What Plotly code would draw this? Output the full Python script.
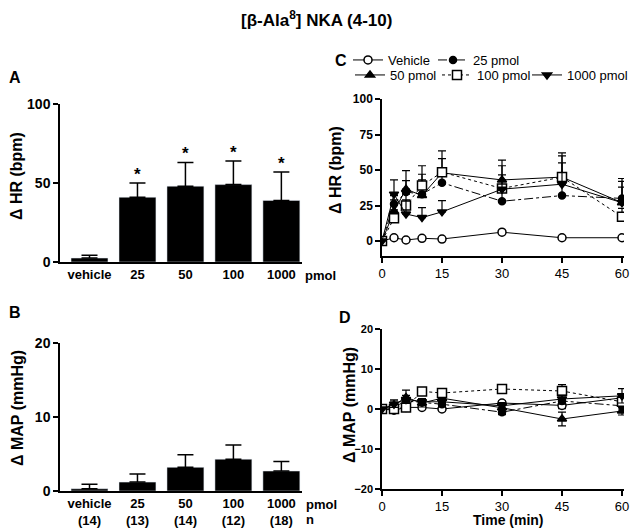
import plotly.graph_objects as go

# ---------------- data ----------------
groups = ["vehicle", "25", "50", "100", "1000"]
n_labels = ["(14)", "(13)", "(14)", "(12)", "(18)"]
hr_mean = [2.5, 41, 48, 49, 39]
hr_sem = [1.7, 9, 15, 15, 18]
map_mean = [0.3, 1.2, 3.2, 4.3, 2.7]
map_sem = [0.6, 1.1, 1.7, 1.9, 1.3]
hr_sig = [False, True, True, True, True]

times = [0, 3, 6, 10, 15, 30, 45, 60]
series_names = ["Vehicle", "25 pmol", "50 pmol", "100 pmol", "1000 pmol"]

hr_vehicle = [0, 2.3, 0.7, 1.9, 1.4, 6.2, 2.3, 2.3]
hr_25 = [0, 26, 34.5, 33, 41, 28, 32, 30]
hr_50 = [0, 21, 36.5, 32, 48, 43, 45, 27]
hr_100 = [0, 16, 25, 39, 48.5, 37, 45, 17]
hr_1000 = [0, 33, 19, 16.5, 20.5, 36.5, 40, 27]

err_hr_vehicle = [0, 1, 1, 1, 1, 1, 1, 1]
err_hr_25 = [0, 6, 8, 10, 8, 10, 8, 14]
err_hr_50 = [0, 8, 13, 15, 10, 14, 15, 15]
err_hr_100 = [0, 6, 8, 14, 15, 16, 17, 6]
err_hr_1000 = [0, 10, 10, 7, 8, 10, 15, 11]

map_vehicle = [0, -0.3, 0.4, 0.4, 0, 1.5, 0.9, 2.8]
map_25 = [0, 0.5, 2, 1.6, 1.2, -0.8, 2, 0.8]
map_50 = [0, 1, 2.9, 1.5, 2.7, 0.3, -2.5, -0.5]
map_100 = [0, 0, 0.4, 4.4, 4, 5, 4.5, 1.8]
map_1000 = [0, 1.2, 2.4, 1.8, 1.8, 0.8, 2.5, 3.3]

err_map_vehicle = [0, 0.5, 0.5, 0.5, 0.5, 0.6, 0.8, 1]
err_map_25 = [0, 0.6, 0.8, 0.7, 0.7, 0.6, 0.8, 0.8]
err_map_50 = [0, 1.3, 1.8, 1, 1, 1, 1.7, 1]
err_map_100 = [0, 0.5, 0.5, 0.8, 0.6, 0.8, 1.6, 1]
err_map_1000 = [0, 0.8, 1, 0.8, 0.8, 0.8, 1, 1.8]

# ---------------- styling ----------------
# The page body has an 8px margin, so the figure is 632x520 and page
# pixel positions are converted with that offset.
OFF = 8
W, H = 640 - OFF, 528 - OFF
FONT = "Liberation Sans, Arial, Helvetica, sans-serif"


def px(x):
    return (x - OFF) / W


def py(y):
    return 1 - (y - OFF) / H


styles = [
    dict(symbol="circle", fill="white", dash="solid", size=8),
    dict(symbol="circle", fill="black", dash="dashdot", size=7),
    dict(symbol="triangle-up", fill="black", dash="solid", size=8),
    dict(symbol="square", fill="white", dash="dot", size=9),
    dict(symbol="triangle-down", fill="black", dash="solid", size=8),
]
# legend placement (page pixel x of legend box, page pixel y of row centre)
legend_pos = [(348, 60), (433, 60), (350, 75), (437, 75), (527, 75)]

hr_series = [hr_vehicle, hr_25, hr_50, hr_100, hr_1000]
hr_errs = [err_hr_vehicle, err_hr_25, err_hr_50, err_hr_100, err_hr_1000]
map_series = [map_vehicle, map_25, map_50, map_100, map_1000]
map_errs = [err_map_vehicle, err_map_25, err_map_50, err_map_100, err_map_1000]

fig = go.Figure()

# Panel A bars
fig.add_trace(go.Bar(
    x=groups, y=hr_mean, xaxis="x", yaxis="y", marker_color="black",
    error_y=dict(type="data", array=hr_sem, arrayminus=[0] * 5, color="black",
                 thickness=1.5, width=8),
    showlegend=False))

# Panel B bars
fig.add_trace(go.Bar(
    x=groups, y=map_mean, xaxis="x2", yaxis="y2", marker_color="black",
    error_y=dict(type="data", array=map_sem, arrayminus=[0] * 5, color="black",
                 thickness=1.5, width=8),
    showlegend=False))

legend_layouts = {}
# Panels C and D
for i, name in enumerate(series_names):
    st = styles[i]
    lname = "legend" if i == 0 else f"legend{i + 1}"
    lx, ly = legend_pos[i]
    legend_layouts[lname] = dict(
        x=px(lx), y=py(ly), xanchor="left", yanchor="middle",
        font=dict(family=FONT, size=13, color="black"), itemwidth=30,
        bgcolor="rgba(0,0,0,0)", borderwidth=0)
    marker = dict(symbol=st["symbol"], size=st["size"], color=st["fill"],
                  line=dict(color="black", width=1.5))
    fig.add_trace(go.Scatter(
        x=times, y=hr_series[i], xaxis="x3", yaxis="y3", name=name,
        mode="lines+markers", legend=lname,
        line=dict(color="black", width=1, dash=st["dash"]),
        marker=marker,
        error_y=dict(type="data", array=hr_errs[i], arrayminus=[0] * len(times),
                     color="black", thickness=1.2, width=4),
        showlegend=True))
    fig.add_trace(go.Scatter(
        x=times, y=map_series[i], xaxis="x4", yaxis="y4", name=name,
        mode="lines+markers",
        line=dict(color="black", width=1, dash=st["dash"]),
        marker=marker,
        error_y=dict(type="data", array=map_errs[i], color="black", thickness=1.2, width=4),
        showlegend=False))

axis_common = dict(showline=True, linecolor="black", linewidth=1.5, showgrid=False,
                   zeroline=False, ticks="outside", ticklen=5, tickwidth=1.5,
                   tickcolor="black")
bold_tick = dict(family=FONT, size=14, color="black", weight="bold")
cat_tick = dict(family=FONT, size=13, color="black", weight="bold")
norm_tick = dict(family=FONT, size=13, color="black")

layout = dict(
    width=W, height=H, margin=dict(l=0, r=0, t=0, b=0, autoexpand=False),
    paper_bgcolor="white", plot_bgcolor="white",
    font=dict(family=FONT, color="black"),
    bargap=0.23,
    xaxis=dict(**{**axis_common, "ticks": ""}, domain=[px(60), px(302)], anchor="y",
               type="category", range=[-0.615, 4.43], tickfont=cat_tick),
    yaxis=dict(**axis_common, domain=[py(262), py(104)], anchor="x", range=[0, 100],
               tickvals=[0, 50, 100], tickfont=bold_tick),
    xaxis2=dict(**{**axis_common, "ticks": ""}, domain=[px(60), px(302)], anchor="y2",
                type="category", range=[-0.615, 4.43], tickfont=cat_tick,
                tickvals=groups, ticktext=[f"{g}<br>{n}" for g, n in zip(groups, n_labels)]),
    yaxis2=dict(**axis_common, domain=[py(491), py(343)], anchor="x2", range=[0, 20],
                tickvals=[0, 10, 20], tickfont=bold_tick),
    xaxis3=dict(**axis_common, domain=[px(382), px(624)], anchor="y3", range=[0, 60.5],
                tickvals=[0, 15, 30, 45, 60], tickfont=norm_tick),
    yaxis3=dict(**axis_common, domain=[py(256), py(99)], anchor="x3", range=[-10.56, 100],
                tickvals=[0, 25, 50, 75, 100], tickfont=dict(family=FONT, size=12, color="black", weight="bold")),
    xaxis4=dict(**axis_common, domain=[px(382), px(624)], anchor="y4", range=[0, 60.5],
                tickvals=[0, 15, 30, 45, 60], tickfont=norm_tick),
    yaxis4=dict(**axis_common, domain=[py(489), py(329)], anchor="x4", range=[-20, 20],
                tickvals=[-20, -10, 0, 10, 20], tickfont=dict(family=FONT, size=11, color="black", weight="bold")),
    **legend_layouts,
)
fig.update_layout(**layout)


def label(text, x, y, size, xanchor="center", angle=0):
    return dict(text=text, x=px(x), y=py(y), xref="paper", yref="paper",
                xanchor=xanchor, yanchor="middle", textangle=angle, showarrow=False,
                font=dict(family=FONT, size=size, color="black"))


annotations = []
annotations.append(label("<b>[β-Ala<sup>8</sup>] NKA (4-10)</b>", 316, 19, 17))
for letter, x, y in [("A", 15, 78), ("B", 15, 312), ("C", 341, 61), ("D", 345, 317)]:
    annotations.append(label(f"<b>{letter}</b>", x, y, 16))
for text, x, y in [("Δ HR (bpm)", 17, 176), ("Δ MAP (mmHg)", 17, 408),
                   ("Δ HR (bpm)", 335, 170), ("Δ MAP (mmHg)", 349, 405)]:
    annotations.append(label(f"<b>{text}</b>", x, y, 16, angle=-90))
annotations.append(label("<b>pmol</b>", 303, 275, 13, xanchor="left"))
annotations.append(label("<b>pmol</b>", 304, 504, 13, xanchor="left"))
annotations.append(label("<b>n</b>", 304, 519, 13, xanchor="left"))
annotations.append(label("<b>Time (min)</b>", 508, 520, 14))
# Asterisks (category index positions)
for i, (m, s, sig) in enumerate(zip(hr_mean, hr_sem, hr_sig)):
    if sig:
        annotations.append(dict(text="<b>*</b>", x=i, y=m + s, xref="x", yref="y",
                                xanchor="center", yanchor="bottom", yshift=-3, showarrow=False,
                                font=dict(family=FONT, size=17, color="black")))
fig.update_layout(annotations=annotations)

fig.write_html("out.html")
